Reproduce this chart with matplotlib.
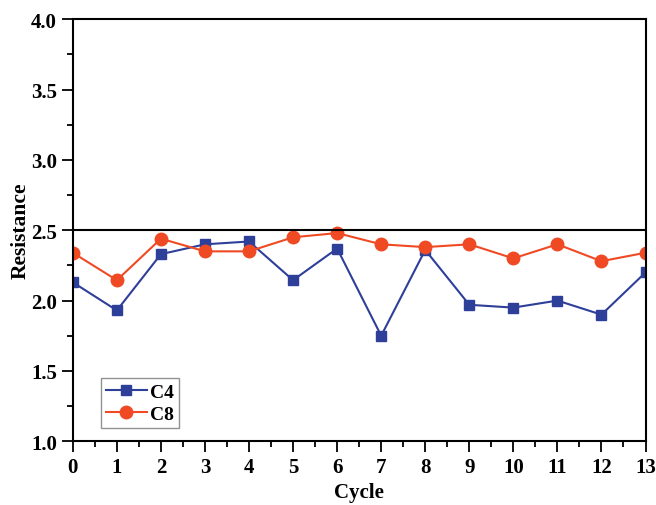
import matplotlib
matplotlib.use("Agg")
import matplotlib.pyplot as plt
import numpy as np
from matplotlib.ticker import MultipleLocator

cycles = list(range(14))
c4 = [2.13, 1.93, 2.33, 2.40, 2.42, 2.145, 2.37, 1.75, 2.36, 1.97, 1.95, 2.00, 1.90, 2.20]
c8 = [2.34, 2.145, 2.44, 2.35, 2.35, 2.45, 2.48, 2.40, 2.38, 2.40, 2.30, 2.40, 2.28, 2.34]
threshold = 2.5

plt.rcParams['font.family'] = ['Liberation Serif', 'DejaVu Serif']
plt.rcParams['font.weight'] = 'bold'

fig = plt.figure(figsize=(6.56, 5.06), dpi=100)
ax = fig.add_axes([0.111, 0.126, 0.873, 0.834])

ax.plot(cycles, c4, color='#2e3f9a', marker='s', markersize=6.5, linewidth=1.5, label='C4')
ax.plot(cycles, c8, color='#ef4a23', marker='o', markersize=9, linewidth=1.5, label='C8')
ax.axhline(threshold, color='black', linewidth=1.5)

ax.set_xlim(0, 13)
ax.set_ylim(1.0, 4.0)
ax.xaxis.set_major_locator(MultipleLocator(1))
ax.xaxis.set_minor_locator(MultipleLocator(0.5))
ax.yaxis.set_major_locator(MultipleLocator(0.5))
ax.yaxis.set_minor_locator(MultipleLocator(0.25))
ax.yaxis.set_major_formatter(plt.FormatStrFormatter('%.1f'))
ax.tick_params(which='major', direction='out', length=8, width=1.3, labelsize=15)
ax.tick_params(which='minor', direction='out', length=4, width=1.3)
for s in ax.spines.values():
    s.set_linewidth(1.5)

for lab in ax.get_xticklabels() + ax.get_yticklabels():
    lab.set_fontweight('bold')

ax.set_xlabel('Cycle', fontsize=15, fontweight='bold')
ax.set_ylabel('Resistance', fontsize=15.5, fontweight='bold')
ax.xaxis.set_label_coords(0.5, -0.097)
ax.yaxis.set_label_coords(-0.074, 0.5)

leg = ax.legend(loc='lower left', bbox_to_anchor=(0.049, 0.031), frameon=True, fancybox=False,
                fontsize=14, handlelength=2.1, borderpad=0.25, labelspacing=0.25, handletextpad=0.2,
                borderaxespad=0)
leg.get_frame().set_edgecolor('#777777')
leg.get_frame().set_linewidth(1.0)
for t in leg.get_texts():
    t.set_fontweight('bold')

fig.savefig('out.png', dpi=100)
